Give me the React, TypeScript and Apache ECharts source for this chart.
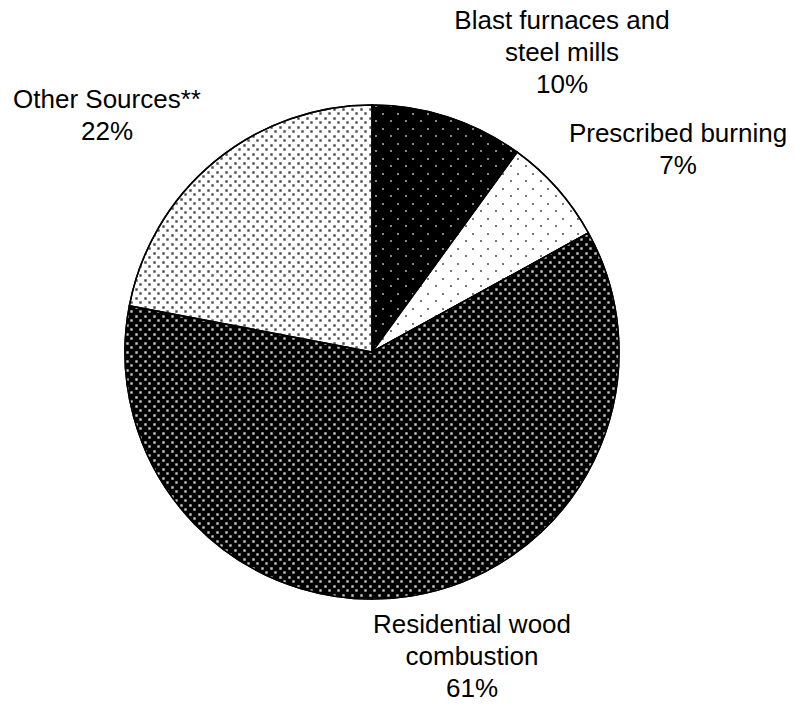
import React, { useEffect, useRef } from "react";
import * as echarts from "echarts";

const categories = [
  "Blast furnaces and\nsteel mills",
  "Prescribed burning",
  "Residential wood\ncombustion",
  "Other Sources**",
];
const values = [10, 7, 61, 22];

// styling (not data)
const baseColors = ["#000000", "#ffffff", "#000000", "#ffffff"];
const decals = [
  { symbol: "rect", symbolSize: 0.75, color: "#f0f0f0", dashArrayX: [[2, 13], [0, 7, 2, 6]], dashArrayY: [2, 6, 2, 5] },
  { symbol: "rect", symbolSize: 0.85, color: "#2a2a2a", dashArrayX: [[2, 13], [0, 7, 2, 6]], dashArrayY: [2, 6, 2, 5] },
  { symbol: "rect", symbolSize: 0.8, color: "#c8c8c8", dashArrayX: [[3, 6], [0, 4, 3, 2]], dashArrayY: [3, 1, 3, 2] },
  { symbol: "rect", symbolSize: 0.8, color: "#4a4a4a", dashArrayX: [[3, 6], [0, 4, 3, 2]], dashArrayY: [3, 1, 3, 2] },
];
const labelPos = [
  [562, 52],
  [678, 149],
  [472, 656],
  [107, 115],
];

export default function App() {
  const ref = useRef<HTMLDivElement>(null);
  useEffect(() => {
    document.body.style.margin = "0";
    const chart = echarts.init(ref.current!, null, { renderer: "svg" });
    chart.setOption({
      animation: false,
      backgroundColor: "#ffffff",
      series: [
        {
          type: "pie",
          center: [372, 352],
          radius: 247,
          startAngle: 90,
          clockwise: true,
          avoidLabelOverlap: false,
          data: categories.map((name, i) => ({
            name,
            value: values[i],
            itemStyle: {
              color: baseColors[i],
              decal: decals[i],
            },
          })),
          itemStyle: { borderColor: "#000000", borderWidth: 1.5 },
          label: {
            show: true,
            position: "outside",
            formatter: (p: any) => `${p.name}\n${p.value}%`,
            fontFamily: "Liberation Sans, Arial, sans-serif",
            fontSize: 26,
            lineHeight: 32,
            color: "#000000",
            align: "center",
          },
          labelLine: { show: false },
          labelLayout: (params: any) => ({
            x: labelPos[params.dataIndex][0],
            y: labelPos[params.dataIndex][1],
            align: "center",
            verticalAlign: "middle",
          }),
          emphasis: { disabled: true },
        },
      ],
    });
    return () => chart.dispose();
  }, []);
  return <div ref={ref} style={{ width: 795, height: 705 }} />;
}
